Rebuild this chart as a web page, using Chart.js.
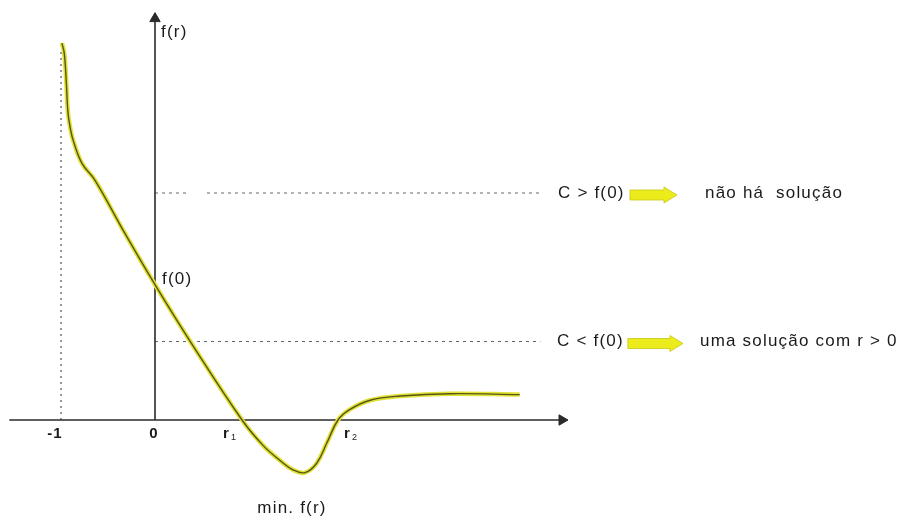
<!DOCTYPE html>
<html>
<head>
<meta charset="utf-8">
<script src="https://cdn.jsdelivr.net/npm/chart.js@4.4.1/dist/chart.umd.min.js"></script>
<style>
  html, body { margin: 0; padding: 0; background: #ffffff; }
  #wrap { width: 904px; height: 516px; position: relative; }
</style>
</head>
<body>
<div id="wrap"><canvas id="c"></canvas></div>
<script>
// ---- data (r units on x, f(r) units on y) ----
const curveR = [-0.99, -0.965, -0.945, -0.926, -0.9, -0.872, -0.777, -0.638, -0.34, 0, 0.372, 0.926, 1.149, 1.33, 1.468, 1.596, 1.72, 1.83, 1.947, 2.07, 2.29, 2.61, 3.14, 3.88];
const curveF = [4.01, 3.90, 3.62, 3.27, 3.10, 2.98, 2.73, 2.55, 2.02, 1.44, 0.84, 0, -0.27, -0.43, -0.53, -0.56, -0.46, -0.24, 0, 0.11, 0.21, 0.255, 0.28, 0.27];
const f0 = 1.44;
const cHigh = 2.415;          // C > f(0)
const cLow = 0.835;           // C < f(0)
const rAsymptote = -1;
const r1 = 0.926, r2 = 1.947, rMin = 1.596;
const tickLabels = ['-1', '0'];
const tickValues = [-1, 0];
const textHigh = ['C > f(0)', 'não há  solução'];
const textLow = ['C < f(0)', 'uma solução com r > 0'];
const axisLabelY = 'f(r)';
const minLabel = 'min. f(r)';

const makeCurve = () => curveR.map((x, i) => ({ x, y: curveF[i] }));

const AX = '#2a2a2a';
const TXT = '#1a1a1a';
const FONT = '"Liberation Sans", Arial, sans-serif';

const labelPlugin = {
  id: 'labels',
  afterDatasetsDraw(chart) {
    const ctx = chart.ctx;
    const xs = chart.scales.x, ys = chart.scales.y;
    const px = v => xs.getPixelForValue(v);
    const py = v => ys.getPixelForValue(v);
    ctx.save();
    ctx.fillStyle = TXT;
    ctx.textBaseline = 'middle';
    try { ctx.letterSpacing = '1.2px'; } catch (e) {}

    ctx.font = '17px ' + FONT;
    ctx.textAlign = 'left';
    ctx.fillText(axisLabelY, px(0.064), py(4.128));
    ctx.fillText('f(0)', px(0.074), py(f0 + 0.06));

    // tick labels
    ctx.font = 'bold 15px ' + FONT;
    ctx.textAlign = 'center';
    tickLabels.forEach((t, i) => ctx.fillText(t, px(tickValues[i]) - (i === 0 ? 6 : 1), py(-0.149)));
    // r1, r2
    ctx.textAlign = 'left';
    [[r1, '1'], [r2, '2']].forEach(([r, s]) => {
      const x0 = px(r) - (r === r1 ? 19 : -6);
      ctx.font = 'bold 15px ' + FONT;
      ctx.fillText('r', x0, py(-0.149));
      ctx.font = '9px ' + FONT;
      ctx.fillText(s, x0 + 8, py(-0.149) + 4);
    });

    ctx.font = '17px ' + FONT;
    ctx.textAlign = 'center';
    ctx.fillText(minLabel, px(rMin) - 13, py(-0.936));

    // right side annotations
    ctx.textAlign = 'left';
    ctx.fillText(textHigh[0], px(4.287), py(cHigh));
    ctx.fillText(textHigh[1], px(5.851), py(cHigh));
    ctx.fillText(textLow[0], px(4.277), py(cLow));
    ctx.fillText(textLow[1], px(5.798), py(cLow));

    // yellow block arrows
    const arrow = (xa, xb, yv) => {
      const x1 = px(xa), x2 = px(xb), yc = py(yv) + 2;
      const bh = 5, hh = 8, hl = 13;
      ctx.beginPath();
      ctx.moveTo(x1, yc - bh);
      ctx.lineTo(x2 - hl, yc - bh);
      ctx.lineTo(x2 - hl, yc - hh);
      ctx.lineTo(x2, yc);
      ctx.lineTo(x2 - hl, yc + hh);
      ctx.lineTo(x2 - hl, yc + bh);
      ctx.lineTo(x1, yc + bh);
      ctx.closePath();
      ctx.fillStyle = '#ecec1c';
      ctx.fill();
      ctx.strokeStyle = 'rgba(200,200,20,0.8)';
      ctx.lineWidth = 1;
      ctx.stroke();
    };
    arrow(5.053, 5.553, cHigh);
    arrow(5.03, 5.617, cLow);
    ctx.restore();
  }
};

new Chart(document.getElementById('c'), {
  type: 'scatter',
  data: {
    datasets: [
      { // curve core (drawn on top)
        order: 0,
        data: makeCurve(), showLine: true, borderColor: '#55551a', borderWidth: 1.4,
        pointRadius: 0, tension: 0.4
      },
      { // curve glow
        order: 1,
        data: makeCurve(), showLine: true, borderColor: '#e2e236', borderWidth: 4.5,
        pointRadius: 0, tension: 0.4
      },
      { // x axis
        order: 2,
        data: [{ x: -1.55, y: 0 }, { x: 4.3, y: 0 }],
        showLine: true, borderColor: AX, borderWidth: 1.6, pointRadius: 0
      },
      { // x axis arrow head
        order: 2,
        data: [{ x: 4.33, y: 0 }],
        pointStyle: 'triangle', rotation: 90, pointRadius: 6,
        backgroundColor: AX, borderColor: AX, borderWidth: 1
      },
      { // y axis
        order: 2,
        data: [{ x: 0, y: 0 }, { x: 0, y: 4.25 }],
        showLine: true, borderColor: AX, borderWidth: 1.6, pointRadius: 0
      },
      { // y axis arrow head
        order: 2,
        data: [{ x: 0, y: 4.27 }],
        pointStyle: 'triangle', rotation: 0, pointRadius: 6,
        backgroundColor: AX, borderColor: AX, borderWidth: 1
      },
      { // vertical asymptote
        order: 2,
        data: [{ x: rAsymptote, y: 0 }, { x: rAsymptote, y: 3.95 }],
        showLine: true, borderColor: '#555', borderWidth: 1.2, borderDash: [2, 4], pointRadius: 0
      },
      { // C > f(0)
        order: 2,
        data: [{ x: 0, y: cHigh }, { x: 0.37, y: cHigh }, { x: 0.46, y: null }, { x: 0.553, y: cHigh }, { x: 4.1, y: cHigh }],
        showLine: true, spanGaps: false, borderColor: '#666', borderWidth: 1.2, borderDash: [3, 4], pointRadius: 0
      },
      { // C < f(0)
        order: 2,
        data: [{ x: 0, y: cLow }, { x: 4.1, y: cLow }],
        showLine: true, borderColor: '#666', borderWidth: 1.2, borderDash: [3, 4], pointRadius: 0
      }
    ]
  },
  options: {
    responsive: true,
    maintainAspectRatio: false,
    animation: false,
    layout: { padding: 0, autoPadding: false },
    plugins: { legend: { display: false }, tooltip: { enabled: false } },
    scales: {
      x: { type: 'linear', display: false, min: -155 / 94, max: (904 - 155) / 94 },
      y: { type: 'linear', display: false, min: -96 / 94, max: 420 / 94 }
    }
  },
  plugins: [labelPlugin]
});
</script>
</body>
</html>
